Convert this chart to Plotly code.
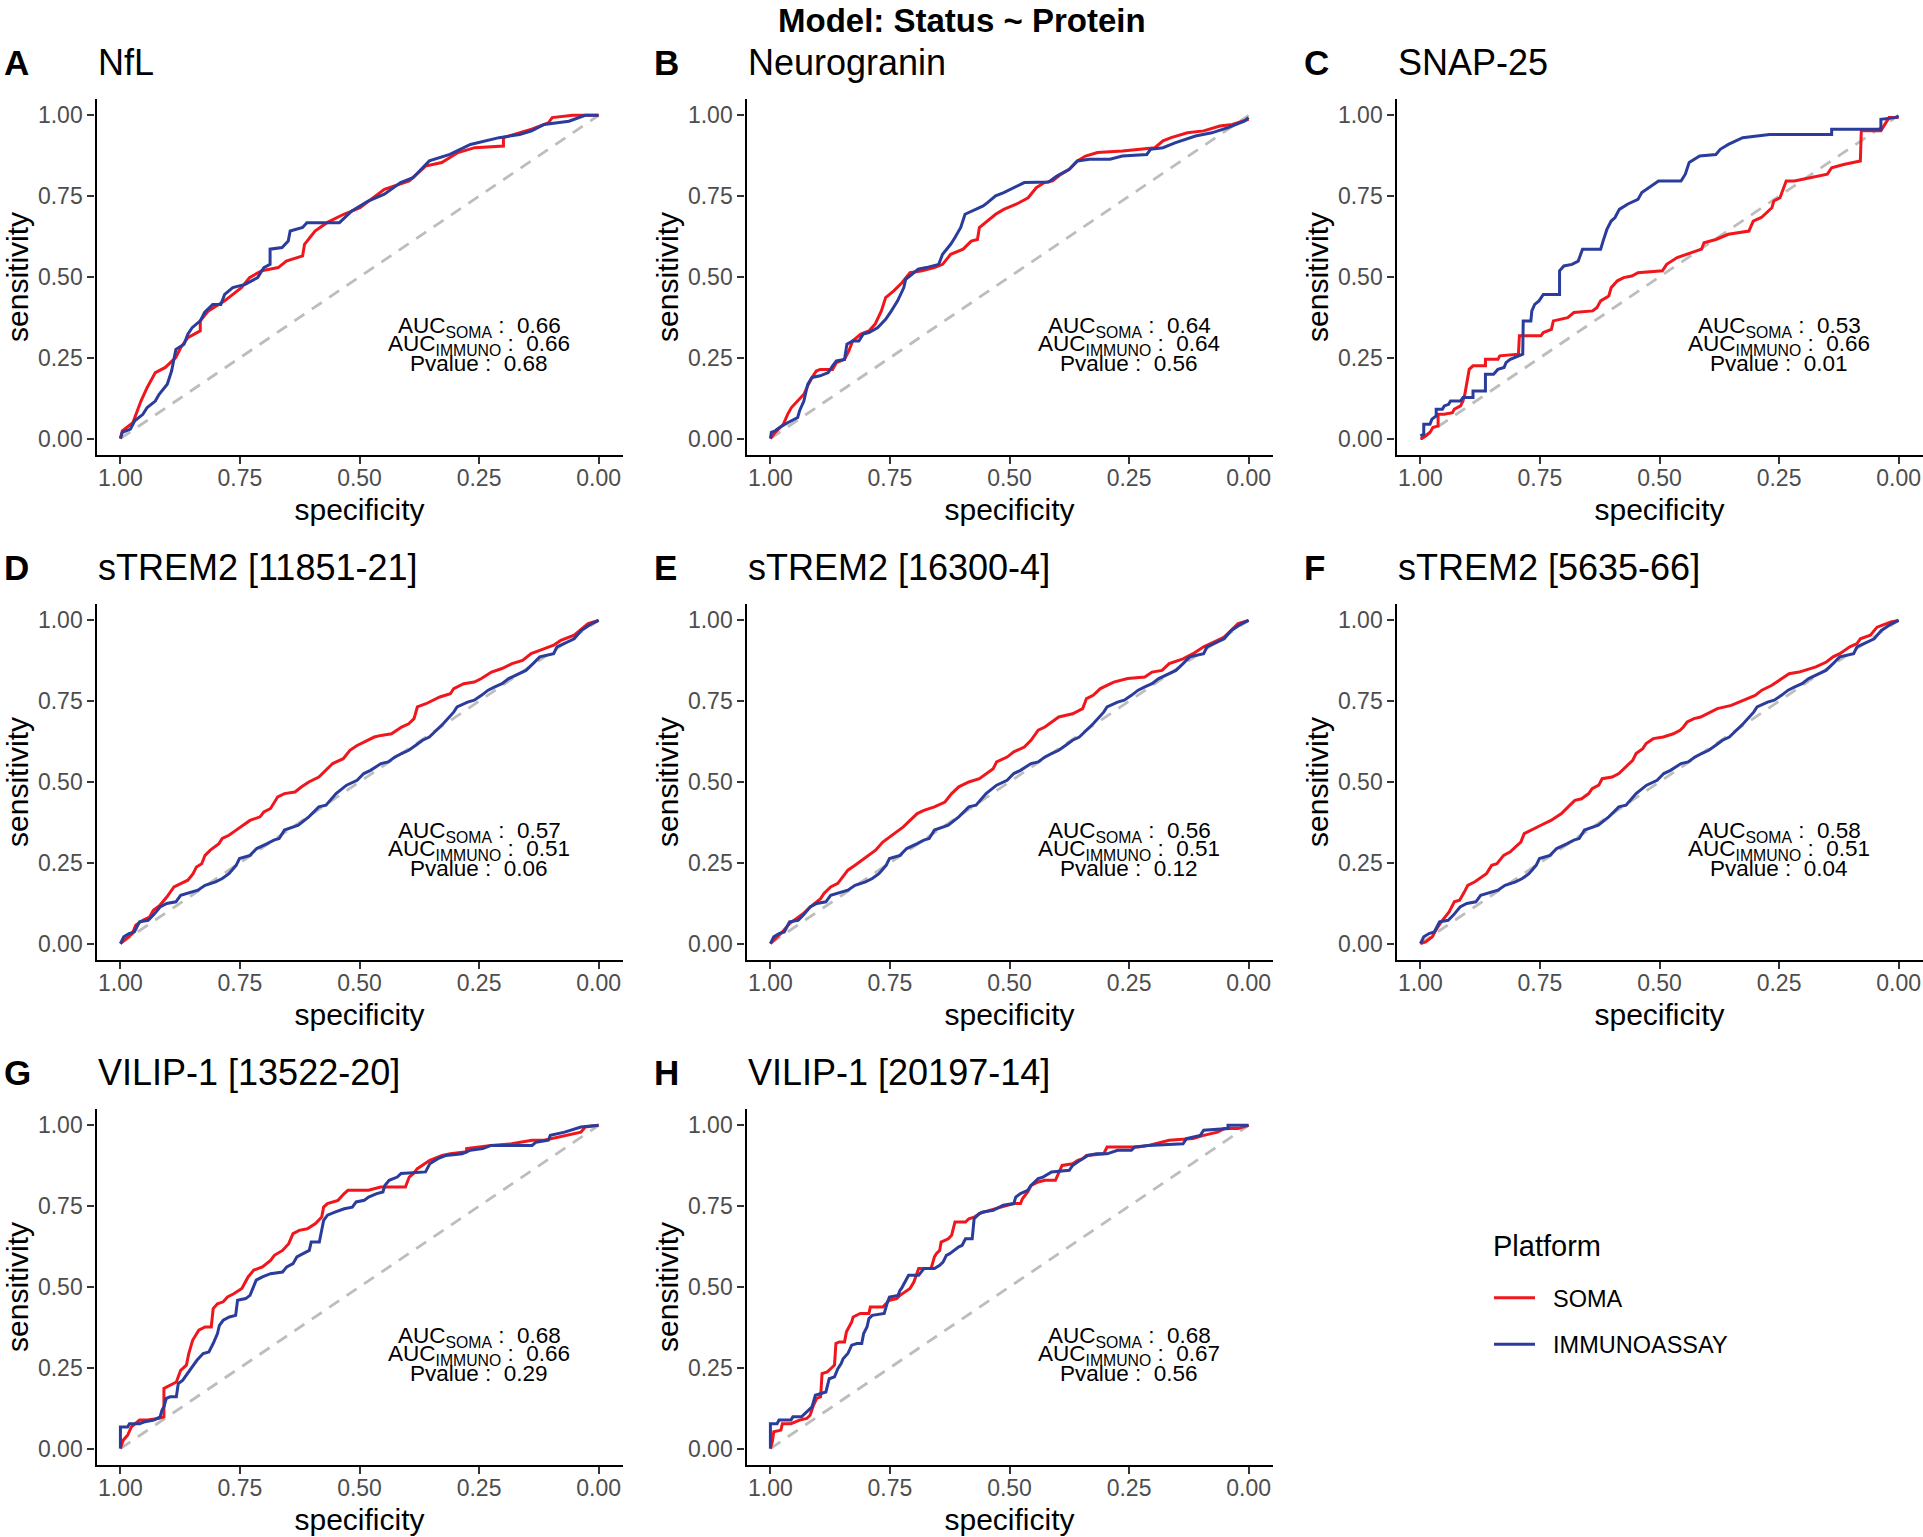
import plotly.graph_objects as go

# ---------------- data (specificity, sensitivity) ----------------
TITLES = ["NfL", "Neurogranin", "SNAP-25", "sTREM2 [11851-21]", "sTREM2 [16300-4]",
          "sTREM2 [5635-66]", "VILIP-1 [13522-20]", "VILIP-1 [20197-14]"]
TAGS = ["A", "B", "C", "D", "E", "F", "G", "H"]
AUC_SOMA = ["0.66", "0.64", "0.53", "0.57", "0.56", "0.58", "0.68", "0.68"]
AUC_IMMUNO = ["0.66", "0.64", "0.66", "0.51", "0.51", "0.51", "0.66", "0.67"]
PVALUES = ["0.68", "0.56", "0.01", "0.06", "0.12", "0.04", "0.29", "0.56"]
PLATFORMS = ["SOMA", "IMMUNOASSAY"]
DIAG_SPEC = [1.0, 0.0]
DIAG_SENS = [0.0, 1.0]
TICK_VALUES = [0.0, 0.25, 0.5, 0.75, 1.0]
TICK_LABELS = ["0.00", "0.25", "0.50", "0.75", "1.00"]

NFL_SOMA = [(1,0),(0.996,0.024),(0.974,0.049),(0.957,0.116),(0.944,0.158),(0.927,0.204),(0.906,0.220),
    (0.884,0.251),(0.874,0.281),(0.859,0.312),(0.833,0.333),(0.833,0.364),(0.816,0.395),(0.782,0.426),
    (0.747,0.467),(0.730,0.498),(0.705,0.519),(0.670,0.529),(0.653,0.549),(0.619,0.565),(0.615,0.601),
    (0.593,0.642),(0.568,0.668),(0.533,0.694),(0.499,0.714),(0.448,0.771),(0.396,0.797),(0.362,0.843),
    (0.328,0.854),(0.294,0.885),(0.259,0.900),(0.199,0.905),(0.199,0.931),(0.140,0.957),(0.105,0.977),
    (0.097,0.993),(0.054,1.0),(0.0,1.0)]
NFL_IMMUNO = [(1,0),(0.996,0.019),(0.979,0.029),(0.970,0.055),(0.953,0.075),(0.944,0.096),(0.927,0.116),
    (0.919,0.137),(0.902,0.168),(0.893,0.209),(0.884,0.276),(0.867,0.292),(0.859,0.323),(0.850,0.343),
    (0.833,0.364),(0.824,0.390),(0.807,0.415),(0.790,0.415),(0.782,0.446),(0.765,0.467),(0.739,0.477),
    (0.713,0.498),(0.700,0.529),(0.687,0.539),(0.687,0.586),(0.662,0.591),(0.649,0.611),(0.645,0.642),
    (0.619,0.653),(0.610,0.668),(0.542,0.668),(0.516,0.704),(0.482,0.735),(0.448,0.756),(0.414,0.792),
    (0.388,0.807),(0.354,0.859),(0.311,0.879),(0.268,0.910),(0.208,0.931),(0.165,0.941),(0.140,0.952),
    (0.114,0.972),(0.062,0.982),(0.028,1.0),(0,1)]

NRGN_SOMA = [(1,0),(0.990,0.019),(0.973,0.044),(0.964,0.075),(0.956,0.096),(0.939,0.122),(0.930,0.137),
    (0.922,0.163),(0.913,0.189),(0.904,0.209),(0.896,0.214),(0.870,0.214),(0.862,0.235),(0.845,0.245),
    (0.836,0.271),(0.828,0.302),(0.811,0.323),(0.794,0.333),(0.781,0.354),(0.768,0.395),(0.759,0.436),
    (0.742,0.457),(0.725,0.482),(0.708,0.513),(0.683,0.519),(0.657,0.529),(0.640,0.539),(0.623,0.570),
    (0.597,0.586),(0.580,0.611),(0.567,0.616),(0.563,0.653),(0.546,0.673),(0.529,0.694),(0.512,0.709),
    (0.486,0.725),(0.461,0.745),(0.444,0.776),(0.427,0.792),(0.410,0.797),(0.392,0.818),(0.375,0.833),
    (0.358,0.859),(0.341,0.874),(0.316,0.885),(0.264,0.890),(0.196,0.900),(0.179,0.921),(0.162,0.931),
    (0.128,0.946),(0.094,0.952),(0.060,0.967),(0.034,0.972),(0,0.988)]
NRGN_IMMUNO = [(1,0),(0.998,0.019),(0.990,0.024),(0.981,0.034),(0.964,0.049),(0.943,0.065),(0.939,0.086),
    (0.930,0.116),(0.922,0.168),(0.913,0.189),(0.896,0.194),(0.879,0.204),(0.870,0.225),(0.862,0.240),
    (0.845,0.245),(0.840,0.292),(0.828,0.302),(0.815,0.302),(0.806,0.323),(0.794,0.328),(0.776,0.343),
    (0.759,0.369),(0.747,0.395),(0.734,0.426),(0.721,0.467),(0.717,0.493),(0.704,0.508),(0.691,0.524),
    (0.674,0.529),(0.648,0.539),(0.640,0.570),(0.623,0.601),(0.614,0.622),(0.602,0.653),(0.593,0.694),
    (0.572,0.709),(0.555,0.720),(0.546,0.730),(0.529,0.751),(0.512,0.761),(0.486,0.781),(0.469,0.792),
    (0.418,0.794),(0.401,0.812),(0.375,0.833),(0.358,0.859),(0.333,0.864),(0.290,0.864),(0.264,0.874),
    (0.213,0.879),(0.205,0.895),(0.179,0.900),(0.154,0.915),(0.111,0.936),(0.077,0.946),(0.043,0.962),
    (0.009,0.982),(0,0.993)]

SNAP_SOMA = [(1,0),(0.997,0),(0.989,0.008),(0.980,0.019),(0.974,0.034),(0.963,0.039),(0.963,0.075),
    (0.950,0.075),(0.933,0.080),(0.929,0.091),(0.916,0.101),(0.911,0.116),(0.907,0.137),(0.903,0.178),
    (0.898,0.214),(0.890,0.225),(0.864,0.225),(0.864,0.245),(0.838,0.245),(0.834,0.256),(0.795,0.261),
    (0.793,0.318),(0.748,0.318),(0.743,0.328),(0.726,0.338),(0.722,0.364),(0.709,0.369),(0.692,0.374),
    (0.679,0.390),(0.640,0.395),(0.631,0.405),(0.623,0.426),(0.606,0.441),(0.601,0.467),(0.588,0.488),
    (0.575,0.498),(0.558,0.503),(0.545,0.513),(0.494,0.519),(0.485,0.539),(0.463,0.560),(0.442,0.570),
    (0.412,0.586),(0.407,0.606),(0.382,0.616),(0.356,0.632),(0.313,0.642),(0.304,0.673),(0.287,0.684),
    (0.265,0.714),(0.261,0.735),(0.248,0.745),(0.235,0.797),(0.218,0.797),(0.183,0.807),(0.149,0.818),
    (0.140,0.838),(0.115,0.848),(0.080,0.859),(0.078,0.952),(0.037,0.952),(0.020,0.993),(0,0.993)]
SNAP_IMMUNO = [(1,0.008),(0.993,0.013),(0.993,0.044),(0.980,0.044),(0.976,0.060),(0.967,0.070),
    (0.967,0.091),(0.954,0.091),(0.950,0.101),(0.941,0.106),(0.937,0.116),(0.916,0.116),(0.911,0.127),
    (0.890,0.127),(0.890,0.147),(0.864,0.147),(0.864,0.199),(0.847,0.199),(0.838,0.214),(0.825,0.220),
    (0.821,0.235),(0.812,0.245),(0.786,0.261),(0.785,0.364),(0.769,0.364),(0.767,0.395),(0.761,0.415),
    (0.752,0.426),(0.743,0.446),(0.709,0.446),(0.709,0.519),(0.700,0.534),(0.683,0.539),(0.670,0.549),
    (0.661,0.586),(0.623,0.586),(0.618,0.611),(0.610,0.647),(0.601,0.673),(0.593,0.684),(0.584,0.709),
    (0.567,0.725),(0.545,0.740),(0.537,0.761),(0.502,0.797),(0.455,0.797),(0.446,0.818),(0.438,0.854),
    (0.416,0.874),(0.382,0.879),(0.373,0.895),(0.356,0.910),(0.326,0.931),(0.270,0.941),(0.140,0.941),
    (0.140,0.957),(0.037,0.957),(0.037,0.988),(0.007,0.993),(0,0.998)]

TREM_A_SOMA = [(1,0),(0.989,0.015),(0.975,0.031),(0.968,0.057),(0.953,0.072),(0.939,0.082),(0.931,0.103),
    (0.917,0.119),(0.903,0.144),(0.888,0.175),(0.874,0.186),(0.859,0.196),(0.848,0.216),(0.841,0.237),
    (0.830,0.247),(0.823,0.273),(0.812,0.289),(0.794,0.309),(0.787,0.325),(0.773,0.335),(0.758,0.351),
    (0.744,0.366),(0.729,0.381),(0.708,0.392),(0.700,0.407),(0.686,0.418),(0.671,0.454),(0.657,0.464),
    (0.635,0.469),(0.621,0.485),(0.606,0.500),(0.585,0.515),(0.570,0.536),(0.556,0.557),(0.534,0.572),
    (0.520,0.598),(0.505,0.613),(0.484,0.629),(0.469,0.639),(0.455,0.644),(0.433,0.649),(0.412,0.670),
    (0.397,0.680),(0.386,0.696),(0.379,0.732),(0.361,0.742),(0.347,0.753),(0.332,0.763),(0.310,0.773),
    (0.303,0.789),(0.282,0.804),(0.260,0.809),(0.245,0.820),(0.224,0.840),(0.202,0.851),(0.181,0.866),
    (0.159,0.876),(0.141,0.897),(0.123,0.907),(0.094,0.923),(0.079,0.938),(0.051,0.954),(0.022,0.990),(0,1)]
TREM_IMMUNO = [(1,0),(0.993,0.021),(0.982,0.031),(0.971,0.036),(0.960,0.067),(0.942,0.072),(0.931,0.088),
    (0.917,0.113),(0.903,0.124),(0.884,0.129),(0.874,0.149),(0.852,0.160),(0.838,0.165),(0.823,0.180),
    (0.801,0.191),(0.787,0.201),(0.773,0.216),(0.758,0.242),(0.751,0.263),(0.729,0.273),(0.715,0.294),
    (0.693,0.309),(0.679,0.320),(0.668,0.325),(0.657,0.351),(0.628,0.366),(0.606,0.392),(0.585,0.423),
    (0.570,0.428),(0.549,0.464),(0.527,0.490),(0.505,0.505),(0.491,0.526),(0.477,0.536),(0.455,0.557),
    (0.440,0.562),(0.426,0.577),(0.412,0.588),(0.397,0.598),(0.383,0.613),(0.368,0.629),(0.354,0.639),
    (0.339,0.660),(0.325,0.680),(0.303,0.716),(0.296,0.732),(0.274,0.747),(0.260,0.753),(0.245,0.768),
    (0.231,0.784),(0.217,0.794),(0.202,0.804),(0.188,0.820),(0.166,0.835),(0.152,0.845),(0.137,0.866),
    (0.123,0.887),(0.094,0.897),(0.087,0.918),(0.051,0.943),(0.036,0.969),(0.014,0.990),(0,1)]
TREM_B_SOMA = [(1,0),(0.989,0.015),(0.975,0.036),(0.960,0.062),(0.946,0.077),(0.931,0.093),(0.917,0.113),
    (0.895,0.139),(0.888,0.155),(0.874,0.175),(0.859,0.186),(0.848,0.206),(0.838,0.227),(0.823,0.242),
    (0.809,0.258),(0.794,0.273),(0.780,0.289),(0.765,0.314),(0.751,0.330),(0.736,0.345),(0.722,0.361),
    (0.708,0.381),(0.693,0.402),(0.679,0.412),(0.657,0.423),(0.635,0.438),(0.621,0.464),(0.606,0.485),
    (0.585,0.500),(0.563,0.510),(0.549,0.526),(0.534,0.541),(0.527,0.562),(0.505,0.577),(0.491,0.593),
    (0.469,0.608),(0.455,0.629),(0.440,0.660),(0.426,0.670),(0.412,0.686),(0.397,0.701),(0.368,0.711),
    (0.347,0.727),(0.339,0.758),(0.325,0.768),(0.310,0.789),(0.296,0.799),(0.282,0.809),(0.253,0.820),
    (0.217,0.825),(0.202,0.840),(0.181,0.845),(0.166,0.866),(0.137,0.881),(0.116,0.897),(0.094,0.918),
    (0.065,0.938),(0.051,0.948),(0.022,0.990),(0,1)]
TREM_C_SOMA = [(1,0),(0.989,0.005),(0.975,0.021),(0.968,0.041),(0.954,0.072),(0.940,0.098),(0.929,0.129),
    (0.918,0.134),(0.908,0.160),(0.901,0.180),(0.886,0.191),(0.876,0.201),(0.862,0.216),(0.851,0.242),
    (0.840,0.247),(0.826,0.273),(0.812,0.284),(0.801,0.299),(0.790,0.314),(0.783,0.340),(0.769,0.351),
    (0.748,0.366),(0.727,0.381),(0.705,0.402),(0.691,0.423),(0.677,0.443),(0.663,0.448),(0.648,0.464),
    (0.641,0.479),(0.627,0.490),(0.620,0.510),(0.599,0.515),(0.585,0.526),(0.570,0.546),(0.556,0.567),
    (0.549,0.588),(0.535,0.603),(0.528,0.619),(0.513,0.634),(0.492,0.639),(0.471,0.649),(0.457,0.660),
    (0.450,0.670),(0.442,0.686),(0.428,0.696),(0.414,0.701),(0.393,0.716),(0.379,0.727),(0.350,0.737),
    (0.322,0.753),(0.300,0.768),(0.286,0.784),(0.265,0.799),(0.244,0.820),(0.229,0.835),(0.208,0.840),
    (0.173,0.856),(0.151,0.871),(0.137,0.887),(0.123,0.897),(0.102,0.918),(0.087,0.928),(0.080,0.943),
    (0.059,0.954),(0.045,0.979),(0.016,0.995),(0,1)]

VILIP_A_SOMA = [(1,0),(0.994,0.026),(0.985,0.041),(0.977,0.067),(0.960,0.088),(0.943,0.088),(0.921,0.093),
    (0.913,0.098),(0.909,0.098),(0.909,0.186),(0.896,0.196),(0.883,0.206),(0.874,0.242),(0.862,0.258),
    (0.857,0.294),(0.849,0.335),(0.836,0.366),(0.823,0.376),(0.810,0.376),(0.806,0.433),(0.797,0.448),
    (0.785,0.454),(0.776,0.469),(0.763,0.479),(0.746,0.495),(0.733,0.531),(0.721,0.552),(0.703,0.562),
    (0.686,0.582),(0.678,0.598),(0.661,0.613),(0.648,0.634),(0.639,0.665),(0.626,0.675),(0.609,0.680),
    (0.592,0.696),(0.579,0.716),(0.575,0.747),(0.567,0.758),(0.554,0.763),(0.545,0.768),(0.532,0.789),
    (0.524,0.799),(0.481,0.799),(0.456,0.809),(0.404,0.809),(0.396,0.840),(0.387,0.851),(0.379,0.866),
    (0.353,0.892),(0.327,0.907),(0.310,0.912),(0.276,0.918),(0.276,0.928),(0.225,0.938),(0.182,0.943),
    (0.139,0.954),(0.114,0.954),(0.071,0.969),(0.037,0.979),(0.028,0.995),(0,1)]
VILIP_A_IMMUNO = [(1,0),(1,0.067),(0.985,0.067),(0.981,0.077),(0.960,0.077),(0.951,0.082),(0.930,0.088),
    (0.917,0.098),(0.913,0.119),(0.909,0.129),(0.904,0.155),(0.896,0.160),(0.883,0.160),(0.879,0.201),
    (0.870,0.211),(0.862,0.227),(0.849,0.253),(0.840,0.273),(0.827,0.294),(0.815,0.299),(0.806,0.325),
    (0.797,0.356),(0.793,0.381),(0.785,0.397),(0.772,0.407),(0.759,0.412),(0.755,0.459),(0.738,0.464),
    (0.729,0.474),(0.721,0.500),(0.716,0.521),(0.703,0.531),(0.686,0.541),(0.661,0.546),(0.652,0.562),
    (0.639,0.572),(0.631,0.593),(0.618,0.603),(0.605,0.613),(0.601,0.639),(0.584,0.639),(0.575,0.706),
    (0.567,0.722),(0.550,0.732),(0.532,0.742),(0.515,0.747),(0.507,0.763),(0.490,0.768),(0.481,0.778),
    (0.464,0.789),(0.451,0.794),(0.447,0.814),(0.438,0.830),(0.421,0.840),(0.413,0.851),(0.362,0.856),
    (0.353,0.881),(0.336,0.897),(0.319,0.907),(0.285,0.912),(0.268,0.923),(0.242,0.928),(0.225,0.938),
    (0.139,0.938),(0.131,0.948),(0.105,0.954),(0.101,0.969),(0.071,0.979),(0.045,0.990),(0.037,0.995),(0,1)]
VILIP_B_SOMA = [(1,0),(0.996,0.021),(0.993,0.052),(0.978,0.057),(0.975,0.077),(0.957,0.077),(0.939,0.088),
    (0.924,0.093),(0.917,0.103),(0.910,0.134),(0.903,0.155),(0.895,0.160),(0.892,0.232),(0.881,0.237),
    (0.874,0.247),(0.866,0.258),(0.863,0.325),(0.856,0.330),(0.845,0.330),(0.841,0.361),(0.830,0.392),
    (0.827,0.407),(0.812,0.418),(0.794,0.418),(0.791,0.438),(0.765,0.438),(0.751,0.459),(0.736,0.464),
    (0.729,0.474),(0.718,0.485),(0.708,0.495),(0.700,0.515),(0.693,0.546),(0.690,0.557),(0.664,0.557),
    (0.657,0.593),(0.653,0.603),(0.646,0.613),(0.643,0.639),(0.628,0.649),(0.621,0.660),(0.614,0.701),
    (0.592,0.701),(0.585,0.711),(0.574,0.716),(0.563,0.727),(0.542,0.737),(0.520,0.747),(0.491,0.758),
    (0.477,0.758),(0.473,0.773),(0.462,0.794),(0.455,0.814),(0.440,0.825),(0.426,0.830),(0.404,0.830),
    (0.397,0.856),(0.390,0.876),(0.368,0.881),(0.357,0.892),(0.347,0.897),(0.339,0.907),(0.303,0.912),
    (0.296,0.933),(0.231,0.933),(0.209,0.938),(0.166,0.954),(0.116,0.959),(0.094,0.969),(0.065,0.979),
    (0.051,0.990),(0.022,0.990),(0,1)]
VILIP_B_IMMUNO = [(1,0),(1,0.077),(0.986,0.077),(0.982,0.088),(0.957,0.088),(0.953,0.098),(0.935,0.098),
    (0.928,0.108),(0.921,0.119),(0.913,0.129),(0.906,0.165),(0.895,0.170),(0.884,0.175),(0.877,0.216),
    (0.866,0.222),(0.859,0.247),(0.852,0.263),(0.848,0.278),(0.838,0.294),(0.830,0.320),(0.819,0.325),
    (0.809,0.325),(0.805,0.356),(0.798,0.376),(0.794,0.402),(0.787,0.412),(0.762,0.418),(0.755,0.454),
    (0.751,0.469),(0.733,0.474),(0.729,0.490),(0.726,0.495),(0.718,0.515),(0.711,0.536),(0.690,0.536),
    (0.679,0.557),(0.657,0.557),(0.646,0.567),(0.639,0.577),(0.632,0.598),(0.625,0.603),(0.617,0.613),
    (0.606,0.624),(0.599,0.629),(0.592,0.649),(0.578,0.649),(0.574,0.711),(0.563,0.727),(0.556,0.732),
    (0.534,0.737),(0.513,0.753),(0.491,0.758),(0.487,0.778),(0.477,0.789),(0.462,0.799),(0.455,0.814),
    (0.440,0.835),(0.430,0.840),(0.419,0.851),(0.412,0.856),(0.375,0.861),(0.368,0.876),(0.357,0.887),
    (0.347,0.897),(0.336,0.907),(0.318,0.912),(0.296,0.912),(0.274,0.923),(0.245,0.923),(0.238,0.933),
    (0.209,0.938),(0.137,0.943),(0.130,0.959),(0.101,0.969),(0.094,0.985),(0.043,0.990),(0.043,1.0),(0,1)]

SOMA_CURVES = [NFL_SOMA, NRGN_SOMA, SNAP_SOMA, TREM_A_SOMA, TREM_B_SOMA, TREM_C_SOMA,
               VILIP_A_SOMA, VILIP_B_SOMA]
IMMUNO_CURVES = [NFL_IMMUNO, NRGN_IMMUNO, SNAP_IMMUNO, TREM_IMMUNO, TREM_IMMUNO, TREM_IMMUNO,
                 VILIP_A_IMMUNO, VILIP_B_IMMUNO]

# ---------------- styling / layout ----------------
W, H = 1923, 1537
FONT = "Liberation Sans, Arial, Helvetica, sans-serif"
RED = "#F0161C"
BLUE = "#2A3C9C"
GREY = "#BDBDBD"
COL_X0 = [96.5, 746.5, 1396.5]
ROW_Y0 = [99.2, 604.2, 1109.2]
PANEL_W = 526.0
PANEL_H = 355.5
NB = "\u00a0"


def px_x(x):
    return x / W


def px_y(y):
    return 1 - y / H


fig = go.Figure()
annotations = []
layout_axes = {}

for i in range(8):
    r, c = divmod(i, 3)
    k = "" if i == 0 else str(i + 1)
    xa, ya = "x" + k, "y" + k
    x0, y0 = COL_X0[c], ROW_Y0[r]
    axis_common = dict(
        showline=True, linecolor="black", linewidth=2.4, mirror=False,
        ticks="outside", ticklen=7, tickwidth=2, tickcolor="#333333",
        tickvals=TICK_VALUES, ticktext=TICK_LABELS,
        tickfont=dict(family=FONT, size=23, color="#4D4D4D"),
        showgrid=False, zeroline=False, fixedrange=True,
    )
    layout_axes["xaxis" + k] = dict(
        axis_common, domain=[px_x(x0), px_x(x0 + PANEL_W)], anchor=ya,
        range=[1.05, -0.05], ticklabelstandoff=-6,
        title=dict(text="specificity", font=dict(family=FONT, size=30, color="black"), standoff=9),
    )
    layout_axes["yaxis" + k] = dict(
        axis_common, domain=[px_y(y0 + PANEL_H), px_y(y0)], anchor=xa,
        range=[-0.05, 1.05], ticklabelstandoff=0,
        title=dict(text="sensitivity", font=dict(family=FONT, size=30, color="black"), standoff=0),
    )

    fig.add_trace(go.Scatter(x=DIAG_SPEC, y=DIAG_SENS, xaxis=xa, yaxis=ya, mode="lines",
                             line=dict(color=GREY, width=2.8, dash="12px,9px"),
                             showlegend=False, hoverinfo="skip"))
    for curves, name, color in ((SOMA_CURVES, PLATFORMS[0], RED), (IMMUNO_CURVES, PLATFORMS[1], BLUE)):
        pts = curves[i]
        fig.add_trace(go.Scatter(
            x=[p[0] for p in pts], y=[p[1] for p in pts], xaxis=xa, yaxis=ya,
            mode="lines", line=dict(color=color, width=3), name=NB + NB + name,
            legendgroup=name, showlegend=(i == 0)))

    # panel tag and title
    annotations.append(dict(text="<b>" + TAGS[i] + "</b>", x=px_x(x0 - 95), y=px_y(y0 - 37),
                            xref="paper", yref="paper", xanchor="left", yanchor="middle",
                            showarrow=False, font=dict(family=FONT, size=35, color="black")))
    annotations.append(dict(text=TITLES[i], x=px_x(x0 - 0.5), y=px_y(y0 - 37),
                            xref="paper", yref="paper", xanchor="left", yanchor="middle",
                            showarrow=False, font=dict(family=FONT, size=36, color="black")))
    # AUC text
    lines = ["AUC<sub>SOMA</sub>" + NB + ":" + NB + NB + AUC_SOMA[i],
             "AUC<sub>IMMUNO</sub>" + NB + ":" + NB + NB + AUC_IMMUNO[i],
             "Pvalue" + NB + ":" + NB + NB + PVALUES[i]]
    for txt, yy in zip(lines, [0.345, 0.290, 0.231]):
        annotations.append(dict(text=txt, x=0.25, y=yy, xref=xa, yref=ya, xanchor="center",
                                yanchor="middle", showarrow=False,
                                font=dict(family=FONT, size=22.5, color="black")))

annotations.append(dict(text="<b>Model: Status ~ Protein</b>", x=0.5, y=1.0, xref="paper",
                        yref="paper", xanchor="center", yanchor="top", showarrow=False,
                        font=dict(family=FONT, size=33, color="black")))
annotations.append(dict(text="Platform", x=px_x(1491), y=px_y(1246), xref="paper",
                        yref="paper", xanchor="left", yanchor="middle", showarrow=False,
                        font=dict(family=FONT, size=29, color="black")))

fig.update_layout(
    width=W, height=H, margin=dict(l=0, r=0, t=0, b=0),
    paper_bgcolor="white", plot_bgcolor="white",
    font=dict(family=FONT, color="black"),
    annotations=annotations,
    legend=dict(x=px_x(1489), xanchor="left", y=px_y(1276), yanchor="top",
                font=dict(family=FONT, size=23.5, color="black"),
                traceorder="grouped", tracegroupgap=13, itemwidth=41,
                bgcolor="rgba(0,0,0,0)"),
    **layout_axes,
)

fig.write_html("out.html", config={"displayModeBar": False},
               post_script="document.body.style.margin='0px';document.body.style.overflow='hidden';")
